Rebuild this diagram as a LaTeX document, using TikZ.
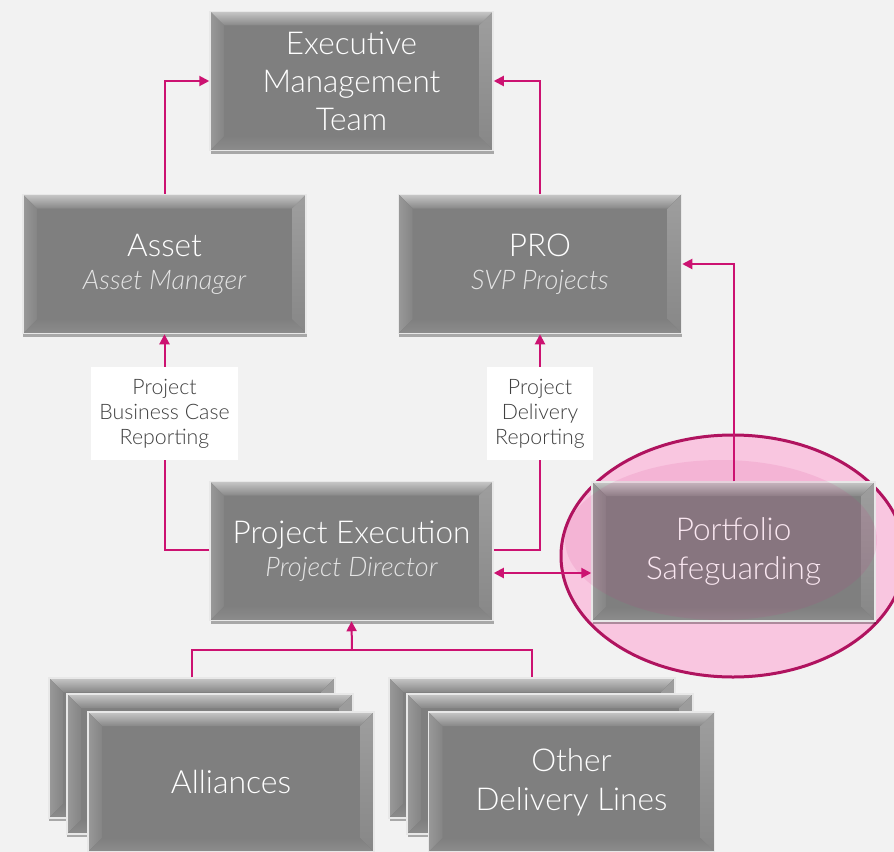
\documentclass[tikz,border=0pt]{standalone}
\usepackage{fontspec}
\setmainfont{Lato Light}[ItalicFont={Lato Light Italic}]
\usetikzlibrary{arrows.meta,shadows,calc}
\definecolor{bg}{HTML}{F2F2F2}
\definecolor{boxg}{HTML}{7F7F7F}
\definecolor{boxrim}{HTML}{E8E8E8}
\definecolor{mag}{HTML}{CC1271}
\definecolor{ellb}{HTML}{B0135F}
\definecolor{ellf}{HTML}{F9C6E0}
\definecolor{hilite}{HTML}{D02880}
\definecolor{labtxt}{HTML}{404040}
\definecolor{subtxt}{HTML}{E4E4E4}
\newcommand{\subt}[1]{{\fontsize{27bp}{32bp}\selectfont\itshape\color{subtxt}#1}}
\begin{document}
\begin{tikzpicture}[x=1bp,y=-1bp,
  bevel/.style={rectangle, fill=boxg, draw=boxrim, line width=1.5bp, text=white,
    align=center, inner sep=0pt,
    drop shadow={shadow xshift=0.5bp, shadow yshift=-3bp, opacity=0.3, fill=black},
    path picture={
      \path (path picture bounding box.north west) coordinate (bnw)
            (path picture bounding box.north east) coordinate (bne)
            (path picture bounding box.south west) coordinate (bsw)
            (path picture bounding box.south east) coordinate (bse);
      \fill[top color=black!22, bottom color=black!47]
        (bnw) -- (bne) -- ([shift={(-14bp,-14bp)}]bne) -- ([shift={(14bp,-14bp)}]bnw) -- cycle;
      \fill[left color=black!40, right color=black!48]
        (bnw) -- ([shift={(14bp,-14bp)}]bnw) -- ([shift={(14bp,14bp)}]bsw) -- (bsw) -- cycle;
      \fill[top color=black!38, bottom color=black!47]
        (bne) -- ([shift={(-14bp,-14bp)}]bne) -- ([shift={(-14bp,14bp)}]bse) -- (bse) -- cycle;
      \fill[top color=black!50, bottom color=black!45]
        (bsw) -- ([shift={(14bp,14bp)}]bsw) -- ([shift={(-14bp,14bp)}]bse) -- (bse) -- cycle;
    }},
  bigbox/.style={bevel, minimum width=283bp, minimum height=139bp},
  stackbox/.style={bevel, minimum width=286bp, minimum height=140bp},
  ttl/.style={font=\fontsize{31.5bp}{36bp}\selectfont},
  ttltwo/.style={font=\fontsize{31.5bp}{39bp}\selectfont},
  conn/.style={draw=mag, line width=2bp, -{Triangle[length=10bp,width=10bp]}},
  plain/.style={draw=mag, line width=2bp},
  lab/.style={fill=white, text=labtxt, align=center, inner sep=0pt,
    font=\fontsize{21.3bp}{25bp}\selectfont, minimum height=93bp}
]
\fill[bg] (0,0) rectangle (894,852);
\useasboundingbox (0,0) rectangle (894,852);

% highlight ellipse behind Portfolio
\draw[ellb, fill=ellf, line width=3bp] (733,556) ellipse [x radius=172bp, y radius=121bp];

% main boxes
\node[bigbox, font=\fontsize{31.5bp}{38bp}\selectfont] (emt) at (351.5,81) {Executive\\Management\\Team};
\node[bigbox, ttl] (asset) at (164.5,264) {Asset\\[-3bp]\subt{Asset Manager}};
\node[bigbox, ttl] (pro) at (540,264) {PRO\\[-3bp]\subt{SVP Projects}};
\node[bigbox, ttl] (pe) at (351.5,551) {Project Execution\\[-3bp]\subt{Project Director}};
\node[bigbox, ttltwo] (ps) at (733.5,551.5) {Portfolio\\Safeguarding};

% gloss on the ellipse
\fill[hilite, opacity=0.11] (721,540) ellipse [x radius=156bp, y radius=80bp];

% stacks
\node[stackbox] (a1) at (192,748) {};
\node[stackbox] (a2) at (210,764) {};
\node[stackbox, font=\fontsize{32bp}{39bp}\selectfont] (a3) at (231,782) {Alliances};
\node[stackbox] (o1) at (532,748) {};
\node[stackbox] (o2) at (550,764) {};
\node[stackbox, ttltwo] (o3) at (571.5,782) {Other\\Delivery Lines};

% connectors
\draw[conn] (asset.north) |- (emt.west);
\draw[conn] (pro.north) |- (emt.east);
\draw[conn] (ps.north) |- (pro.east);
\draw[conn] ([yshift=1bp]pe.west) -| (asset.south);
\draw[conn] ([yshift=1bp]pe.east) -| (pro.south);
\draw[conn, {Triangle[length=10bp,width=10bp]}-{Triangle[length=10bp,width=10bp]}]
  ([yshift=-22bp]pe.east) -- ([yshift=-22bp]pe.east -| ps.west);
\coordinate (j) at (352,650);
\draw[plain] (a1.north) |- (j) -| (o1.north);
\draw[conn] (j) -- (pe.south);

% labels
\node[lab, minimum width=147bp] (l1) at (164.5,413.5) {Project\\Business Case\\Reporting};
\node[lab, minimum width=106bp] (l2) at (540,413.5) {Project\\Delivery\\Reporting};
\end{tikzpicture}
\end{document}
